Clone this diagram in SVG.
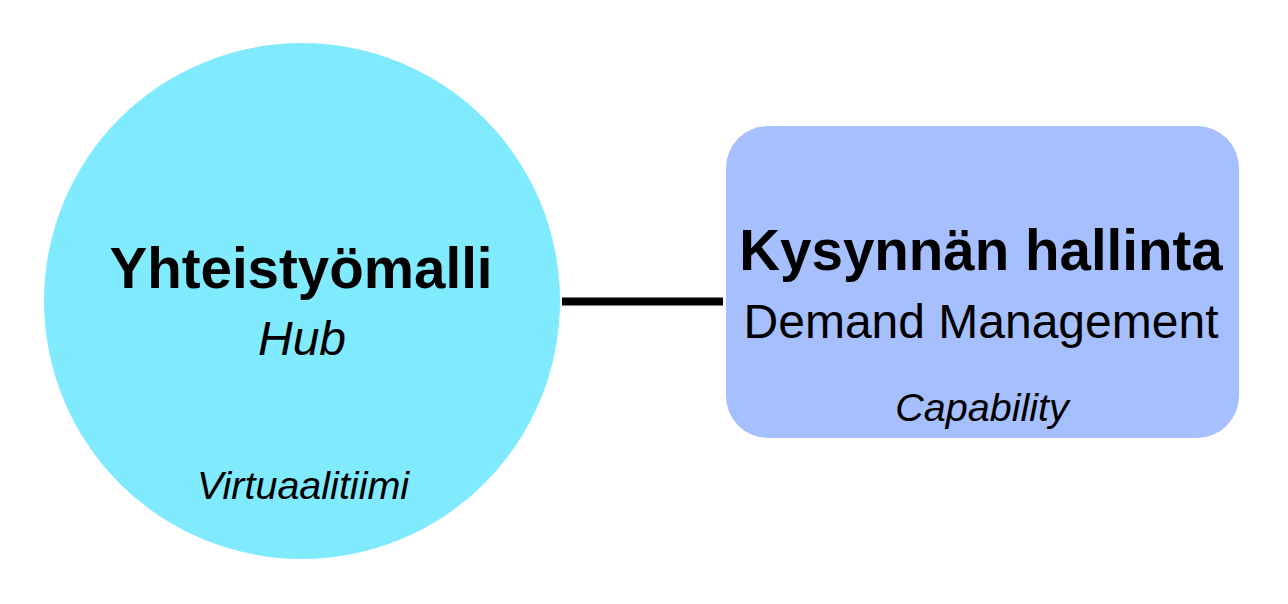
<svg xmlns="http://www.w3.org/2000/svg" width="1288" height="604" viewBox="0 0 1288 604">
<style>
text{font-family:"Liberation Sans",Arial,Helvetica,sans-serif;fill:#000;text-anchor:middle}
.t{font-weight:bold;font-size:56.5px}
.s{font-size:48px}
.i{font-style:italic}
.f{font-style:italic;font-size:39.5px}
</style>
<rect width="1288" height="604" fill="#fff"/>
<g id="connectors">
<line x1="562" y1="301.5" x2="723" y2="301.5" stroke="#000" stroke-width="8"/>
</g>
<g id="hub">
<circle cx="302" cy="301" r="258" fill="#80EAFF"/>
<text class="t" x="301" y="288">Yhteistyömalli</text>
<text class="s i" x="302" y="355">Hub</text>
<text class="f" x="303" y="499">Virtuaalitiimi</text>
</g>
<g id="capability">
<rect x="726" y="126" width="513" height="312" rx="42" fill="#A6BFFF"/>
<text class="t" x="981" y="270">Kysynnän hallinta</text>
<text class="s" x="981" y="338">Demand Management</text>
<text class="f" x="982" y="421">Capability</text>
</g>
</svg>
